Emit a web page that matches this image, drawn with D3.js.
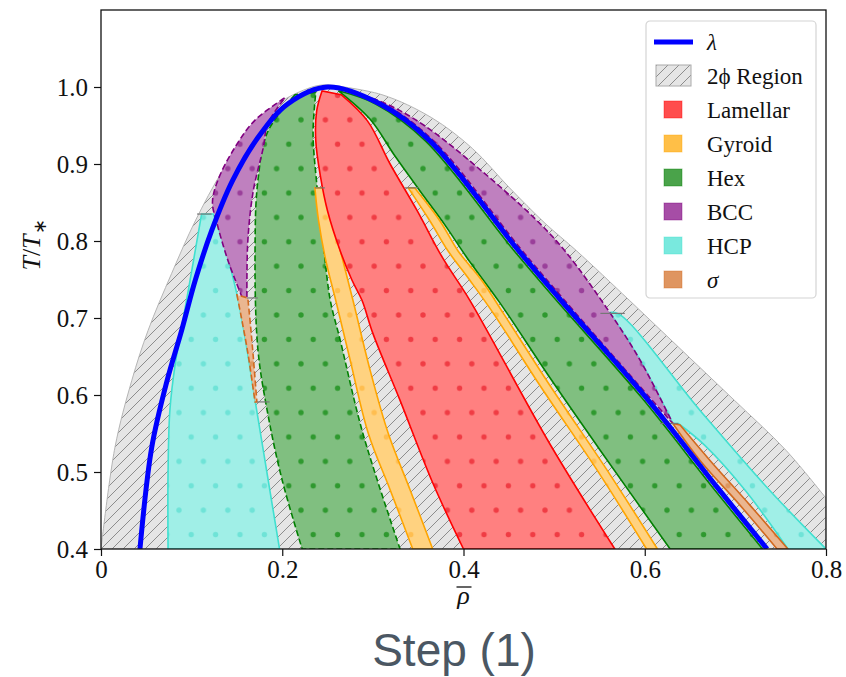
<!DOCTYPE html>
<html lang="en">
<head>
  <meta charset="UTF-8">
  <script src="https://cdn.jsdelivr.net/npm/d3@7/dist/d3.min.js"></script>
  <title>Phase diagram</title>
  <style>
    body { margin: 0; background: #fff; }
    svg { display: block; }
    .tick text { font-family: "Liberation Serif", serif; font-size: 25px; fill: #111; }
    .tick line { stroke: #111; stroke-width: 1.2; }
  </style>
</head>
<body>
<div id="chart"></div>
<script>
// ---- data: (rho, T/T*) pairs ----
var lambdaCurve = [[0.043,0.40],[0.056,0.532],[0.073,0.619],[0.089,0.684],[0.104,0.749],[0.122,0.813],[0.145,0.878],[0.173,0.934],[0.206,0.978],[0.250,1.0],[0.308,0.978],[0.363,0.930],[0.459,0.790],[0.506,0.725],[0.602,0.596],[0.680,0.480],[0.735,0.400]];

var envLeft = [[0.0,0.40],[0.0154,0.532],[0.034,0.619],[0.052,0.684],[0.078,0.758],[0.104,0.826],[0.134,0.891],[0.167,0.947],[0.200,0.982],[0.236,1.001],[0.250,1.003]];
var envRight = [[0.250,1.003],[0.310,0.990],[0.365,0.960],[0.410,0.920],[0.450,0.870],[0.490,0.823],[0.525,0.787],[0.583,0.723],[0.641,0.658],[0.699,0.593],[0.756,0.528],[0.80,0.466]];
var envBottom = [[0.80,0.466],[0.80,0.40]];

var hcpLeftA = [[0.074,0.40],[0.074,0.50],[0.076,0.58],[0.082,0.641],[0.095,0.727],[0.111,0.835]];
var hcpLeftB = [[0.124,0.835],[0.137,0.79],[0.150,0.731],[0.161,0.66],[0.170,0.593],[0.183,0.50],[0.197,0.40]];
var hcpRightA = [[0.557,0.706],[0.570,0.706],[0.661,0.580],[0.738,0.476],[0.80,0.40]];
var hcpRightB = [[0.758,0.40],[0.711,0.476],[0.666,0.535],[0.637,0.563]];
var hcpRightC = [[0.631,0.563],[0.595,0.645],[0.562,0.706]];

var sigmaLeftA = [[0.150,0.730],[0.155,0.70],[0.162,0.655],[0.170,0.591]];
var sigmaLeftB = [[0.172,0.591],[0.168,0.65],[0.165,0.69],[0.162,0.726]];
var sigmaRightA = [[0.631,0.563],[0.661,0.515],[0.705,0.457],[0.746,0.40]];
var sigmaRightB = [[0.758,0.40],[0.716,0.457],[0.672,0.515],[0.639,0.561]];

var bccLeftA = [[0.156,0.726],[0.140,0.775],[0.128,0.823],[0.123,0.85],[0.129,0.879],[0.148,0.922],[0.170,0.957],[0.203,0.986]];
var bccLeftB = [[0.203,0.986],[0.184,0.952],[0.179,0.921],[0.168,0.865],[0.162,0.80],[0.161,0.727]];
var bccRightA = [[0.262,1.0],[0.312,0.978],[0.367,0.930],[0.463,0.790],[0.510,0.725],[0.606,0.596],[0.631,0.563]];
var bccRightB = [[0.631,0.563],[0.595,0.645],[0.562,0.706],[0.512,0.787],[0.478,0.830],[0.420,0.891],[0.358,0.949],[0.315,0.978],[0.262,1.0]];

var hexLeftA = [[0.214,0.99],[0.184,0.942],[0.173,0.877],[0.170,0.791],[0.173,0.661],[0.184,0.576],[0.200,0.489],[0.222,0.40]];
var hexLeftB = [[0.330,0.40],[0.289,0.550],[0.264,0.671],[0.253,0.723],[0.246,0.788],[0.238,0.875],[0.234,0.940],[0.237,0.993]];
var hexRightA = [[0.262,0.995],[0.297,0.958],[0.324,0.911],[0.352,0.865],[0.380,0.820],[0.404,0.778],[0.440,0.720],[0.495,0.623],[0.551,0.528],[0.628,0.40]];
var hexRightB = [[0.730,0.40],[0.675,0.48],[0.597,0.596],[0.501,0.725],[0.454,0.79],[0.358,0.93],[0.303,0.978],[0.262,0.995]];

var gyrLeftA = [[0.236,0.869],[0.240,0.827],[0.248,0.775],[0.259,0.723],[0.275,0.645],[0.295,0.550],[0.319,0.477],[0.344,0.40]];
var gyrLeftB = [[0.366,0.40],[0.341,0.477],[0.317,0.550],[0.297,0.632],[0.278,0.723],[0.264,0.788],[0.253,0.839],[0.246,0.869]];
var gyrRightA = [[0.339,0.869],[0.363,0.826],[0.383,0.787],[0.407,0.749],[0.433,0.706],[0.484,0.613],[0.551,0.496],[0.602,0.40]];
var gyrRightB = [[0.614,0.40],[0.562,0.496],[0.495,0.613],[0.444,0.706],[0.420,0.749],[0.394,0.787],[0.374,0.826],[0.346,0.869]];

var lamA = [[0.244,0.995],[0.238,0.969],[0.237,0.930],[0.242,0.885],[0.250,0.839],[0.264,0.787],[0.277,0.749],[0.288,0.723],[0.300,0.680],[0.330,0.593],[0.366,0.486],[0.400,0.400]];
var lamB = [[0.567,0.400],[0.495,0.537],[0.407,0.723],[0.377,0.778],[0.349,0.839],[0.319,0.900],[0.294,0.956],[0.265,0.99]];

// tie lines: [rho from, rho to, T]
var tieLines = [[0.106,0.122,0.835],[0.161,0.173,0.726],[0.172,0.186,0.591],[0.236,0.247,0.869],[0.335,0.350,0.869],[0.551,0.578,0.706],[0.617,0.637,0.563]];

var xTicks = [0, 0.2, 0.4, 0.6, 0.8];
var yTicks = [0.4, 0.5, 0.6, 0.7, 0.8, 0.9, 1.0];
var legendLabels = ["λ", "2ϕ Region", "Lamellar", "Gyroid", "Hex", "BCC", "HCP", "σ"];

// ---- layout ----
var margin = {top: 10, right: 20, bottom: 128, left: 101};
var width = 846 - margin.left - margin.right;
var height = 677 - margin.top - margin.bottom;
var serif = "Liberation Serif, serif";

var svg = d3.select("#chart").append("svg")
    .attr("width", 846)
    .attr("height", 677);

var g = svg.append("g")
    .attr("transform", "translate(" + margin.left + "," + margin.top + ")");

var x = d3.scaleLinear().domain([0, 0.8]).range([0, width]);
var y = d3.scaleLinear().domain([0.4, 1.1]).range([height, 0]);

var line = d3.line()
    .x(function(d) { return x(d[0]); })
    .y(function(d) { return y(d[1]); })
    .curve(d3.curveCatmullRom.alpha(0.5));

function regionPath(edges) {
  return edges.map(function(e, i) {
    var s = line(e);
    return i ? "L" + s.slice(1) : s;
  }).join("") + "Z";
}

// patterns
var defs = svg.append("defs");
var hatch = defs.append("pattern")
    .attr("id", "hatch")
    .attr("patternUnits", "userSpaceOnUse")
    .attr("width", 11).attr("height", 11);
hatch.append("rect").attr("width", 11).attr("height", 11).attr("fill", "#e5e5e5");
hatch.append("path")
    .attr("d", "M-1,1 l2,-2 M0,11 l11,-11 M10,12 l2,-2")
    .attr("stroke", "#8c8c8c").attr("stroke-width", 1);

function dotPattern(id, color) {
  var p = defs.append("pattern")
      .attr("id", id)
      .attr("patternUnits", "userSpaceOnUse")
      .attr("x", 4.8).attr("y", 12.2)
      .attr("width", 24.4).attr("height", 48.8);
  [[0,0],[24.4,0],[0,48.8],[24.4,48.8],[12.2,24.4]].forEach(function(c) {
    p.append("circle").attr("cx", c[0]).attr("cy", c[1]).attr("r", 2.7).attr("fill", color);
  });
}

var phases = {
  Lamellar: {fill: "#ff8080", stroke: "#ff0000", dot: "#f03c44", swatch: "#ff4d4d"},
  Gyroid:   {fill: "#ffd280", stroke: "#ffa500", dot: "#ffbe50", swatch: "#ffbf47"},
  Hex:      {fill: "#80bf80", stroke: "#008000", dot: "#2f992f", swatch: "#4aa34a"},
  BCC:      {fill: "#bf80bf", stroke: "#800080", dot: "#9a3f9a", swatch: "#a64da6"},
  HCP:      {fill: "#a0efe7", stroke: "#40e0d0", dot: "#6fe3d7", swatch: "#79e9de"},
  sigma:    {fill: "#eab690", stroke: "#d2691e", dot: "#dd965f", swatch: "#df9560"}
};
Object.keys(phases).forEach(function(k) { dotPattern("dots-" + k, phases[k].dot); });

g.append("clipPath").attr("id", "clip")
  .append("rect").attr("width", width).attr("height", height);

var plot = g.append("g").attr("clip-path", "url(#clip)");

// 2-phase envelope
plot.append("path")
    .attr("d", regionPath([envLeft, envRight, envBottom]))
    .attr("fill", "url(#hatch)")
    .attr("stroke", "#b5b5b5")
    .attr("stroke-width", 1);

var regions = [
  {phase: "HCP", edges: [hcpLeftA, hcpLeftB], dash: null},
  {phase: "HCP", edges: [hcpRightA, hcpRightB, hcpRightC], dash: null},
  {phase: "Hex", edges: [hexLeftA, hexLeftB], dash: "6,3"},
  {phase: "Hex", edges: [hexRightA, hexRightB], dash: null},
  {phase: "BCC", edges: [bccLeftA, bccLeftB], dash: "6,3"},
  {phase: "BCC", edges: [bccRightA, bccRightB], dash: "6,3"},
  {phase: "sigma", edges: [sigmaLeftA, sigmaLeftB], dash: "6,3"},
  {phase: "sigma", edges: [sigmaRightA, sigmaRightB], dash: null},
  {phase: "Gyroid", edges: [gyrLeftA, gyrLeftB], dash: null},
  {phase: "Gyroid", edges: [gyrRightA, gyrRightB], dash: null},
  {phase: "Lamellar", edges: [lamA, lamB], dash: null}
];

regions.forEach(function(r) {
  var st = phases[r.phase];
  var d = regionPath(r.edges);
  plot.append("path").attr("d", d).attr("fill", st.fill);
  plot.append("path").attr("d", d).attr("fill", "url(#dots-" + r.phase + ")");
  plot.append("path").attr("d", d)
      .attr("fill", "none")
      .attr("stroke", st.stroke)
      .attr("stroke-width", 1.6)
      .attr("stroke-dasharray", r.dash);
});

// tie lines
plot.selectAll(".tie")
  .data(tieLines)
  .enter().append("line")
    .attr("class", "tie")
    .attr("x1", function(d) { return x(d[0]); })
    .attr("x2", function(d) { return x(d[1]); })
    .attr("y1", function(d) { return y(d[2]); })
    .attr("y2", function(d) { return y(d[2]); })
    .attr("stroke", "#777").attr("stroke-width", 1.2);

// lambda line
plot.append("path")
    .attr("d", line(lambdaCurve))
    .attr("fill", "none")
    .attr("stroke", "#0000ff")
    .attr("stroke-width", 5);

// axes
g.append("g")
    .attr("transform", "translate(0," + height + ")")
    .call(d3.axisBottom(x).tickValues(xTicks).tickSize(7).tickPadding(4)
      .tickFormat(function(d) { return d === 0 ? "0" : d3.format(".1f")(d); }))
    .attr("font-family", serif).attr("font-size", 25)
    .call(function(a) { a.select(".domain").remove(); });

g.append("g")
    .call(d3.axisLeft(y).tickValues(yTicks).tickSize(7).tickPadding(6)
      .tickFormat(d3.format(".1f")))
    .attr("font-family", serif).attr("font-size", 25)
    .call(function(a) { a.select(".domain").remove(); });

g.append("rect")
    .attr("width", width).attr("height", height)
    .attr("fill", "none").attr("stroke", "#111").attr("stroke-width", 1.3);

// axis labels
var ylab = svg.append("text")
    .attr("transform", "translate(40,245) rotate(-90)")
    .attr("text-anchor", "middle")
    .attr("font-family", serif)
    .attr("font-size", 26)
    .attr("fill", "#111");
ylab.append("tspan").attr("font-style", "italic").text("T");
ylab.append("tspan").text("/");
ylab.append("tspan").attr("font-style", "italic").text("T");
ylab.append("tspan").attr("font-size", 18).attr("dy", 6).text("∗");

var xc = margin.left + width / 2;
svg.append("text")
    .attr("x", xc).attr("y", 604)
    .attr("text-anchor", "middle")
    .attr("font-family", serif)
    .attr("font-style", "italic")
    .attr("font-size", 26)
    .attr("fill", "#111")
    .text("ρ");
svg.append("line")
    .attr("x1", xc - 7).attr("x2", xc + 8)
    .attr("y1", 587).attr("y2", 587)
    .attr("stroke", "#111").attr("stroke-width", 1.3);

svg.append("text")
    .attr("x", 454).attr("y", 666)
    .attr("text-anchor", "middle")
    .attr("font-family", "Liberation Sans, Arial, sans-serif")
    .attr("font-size", 46)
    .attr("fill", "#4b5763")
    .text("Step (1)");

// legend
var lg = svg.append("g").attr("transform", "translate(646,21)");
lg.append("rect")
    .attr("width", 170).attr("height", 277)
    .attr("rx", 4)
    .attr("fill", "#fff").attr("fill-opacity", 0.85)
    .attr("stroke", "#d4d4d4").attr("stroke-width", 1.2);

var items = lg.selectAll(".item")
  .data(legendLabels)
  .enter().append("g")
    .attr("class", "item")
    .attr("transform", function(d, i) { return "translate(0," + (21 + i * 34) + ")"; });

var swatchKeys = [null, null, "Lamellar", "Gyroid", "Hex", "BCC", "HCP", "sigma"];
items.each(function(d, i) {
  var it = d3.select(this);
  if (i === 0) {
    it.append("line").attr("x1", 8).attr("x2", 47).attr("y1", 0).attr("y2", 0)
      .attr("stroke", "#0000ff").attr("stroke-width", 5);
  } else if (i === 1) {
    it.append("rect").attr("x", 10).attr("y", -11).attr("width", 35).attr("height", 21)
      .attr("fill", "url(#hatch)").attr("stroke", "#aaa").attr("stroke-width", 1);
  } else {
    it.append("rect").attr("x", 18).attr("y", -9).attr("width", 18).attr("height", 17)
      .attr("fill", phases[swatchKeys[i]].swatch)
      .attr("stroke", phases[swatchKeys[i]].stroke).attr("stroke-opacity", 0.4);
  }
  it.append("text")
    .attr("x", 61).attr("dy", "0.35em")
    .attr("font-family", serif)
    .attr("font-size", 23)
    .attr("font-style", (i === 0 || i === 7) ? "italic" : null)
    .attr("fill", "#111")
    .text(d);
});
</script>
</body>
</html>
